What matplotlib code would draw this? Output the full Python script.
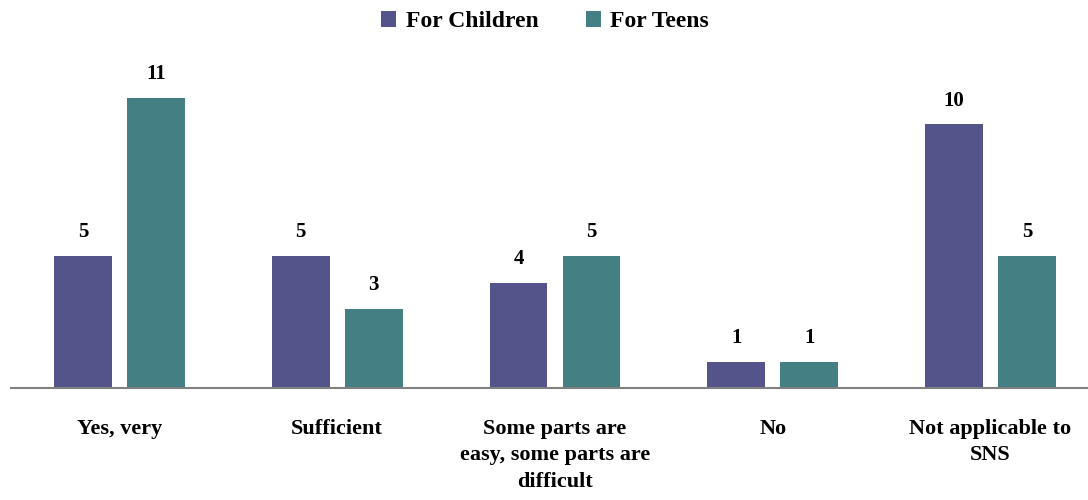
import numpy as np
import matplotlib
matplotlib.use("Agg")
from matplotlib import pyplot as plt

categories = ["Yes, very", "Sufficient", "Some parts are\neasy, some parts are\ndifficult", "No", "Not applicable to\nSNS"]
series_names = ["For Children", "For Teens"]
children = [5, 5, 4, 1, 10]
teens = [11, 3, 5, 1, 5]

colors = ["#55548A", "#437F83"]

plt.rcParams['font.family'] = ['Liberation Serif', 'DejaVu Serif']
plt.rcParams['font.weight'] = 'bold'

fig = plt.figure(figsize=(10.88, 5.0), dpi=100)
ax = fig.add_axes([10.6 / 1088, 112 / 500, 1088.75 / 1088, 316.3 / 500])

x = np.arange(len(categories))
w = 0.266
off = 0.1676

bars1 = ax.bar(x - off, children, w, color=colors[0], label=series_names[0])
bars2 = ax.bar(x + off, teens, w, color=colors[1], label=series_names[1])

for bars in (bars1, bars2):
    for b in bars:
        ax.annotate(f"{int(b.get_height())}", (b.get_x() + b.get_width() / 2, b.get_height()),
                    xytext=(0, 10), textcoords="offset points", ha="center", va="bottom",
                    fontsize=15, fontweight="bold")

ax.set_xlim(-0.5, len(categories) - 0.5)
ax.set_ylim(0, 12)
ax.set_xticks(x)
ax.set_xticklabels(categories, fontsize=16, fontweight="bold", linespacing=1.45)
ax.tick_params(axis="x", length=0, pad=22)
ax.set_yticks([])
for s in ["top", "right", "left"]:
    ax.spines[s].set_visible(False)
ax.spines["bottom"].set_color("#808080")
ax.spines["bottom"].set_linewidth(1.5)

fig.legend(loc="upper center", bbox_to_anchor=(0.501, 1.02), ncol=2, frameon=False,
           handlelength=0.65, handleheight=0.65, handletextpad=0.4, columnspacing=2.0,
           prop={"weight": "bold", "size": 17})

fig.savefig("out.png", dpi=100)
